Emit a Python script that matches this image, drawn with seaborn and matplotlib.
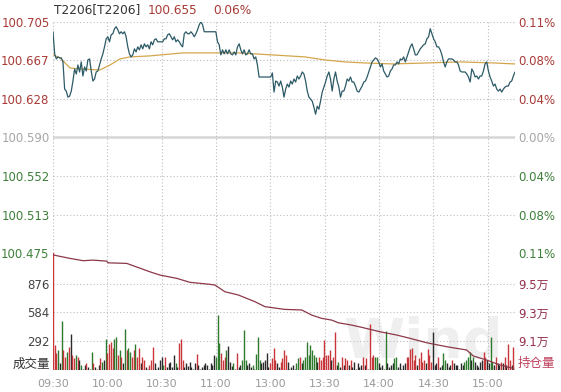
import numpy as np
import pandas as pd
import matplotlib
matplotlib.use("Agg")
import matplotlib.pyplot as plt
import seaborn as sns

# ---------------- data ----------------
title_code = "T2206[T2206]"
last_price = "100.655"
last_change = "0.06%"
pre_close = 100.590

price_ticks = [100.705, 100.667, 100.628, 100.590, 100.552, 100.513, 100.475]
price_labels = ["100.705", "100.667", "100.628", "100.590", "100.552", "100.513", "100.475"]
pct_labels = ["0.11%", "0.08%", "0.04%", "0.00%", "0.04%", "0.08%", "0.11%"]
time_ticks = [0, 30, 60, 90, 120, 150, 180, 210, 240]
time_labels = ["09:30", "10:00", "10:30", "11:00", "13:00", "13:30", "14:00", "14:30", "15:00"]
session_minutes = 255

price = [
    100.695, 100.673, 100.668, 100.670, 100.669, 100.669, 100.665, 100.638, 100.636, 100.630,
    100.631, 100.636, 100.646, 100.658, 100.653, 100.662, 100.655, 100.665, 100.651, 100.660,
    100.656, 100.667, 100.668, 100.656, 100.646, 100.648, 100.655, 100.656, 100.662, 100.668,
    100.673, 100.680, 100.688, 100.690, 100.685, 100.692, 100.693, 100.698, 100.700, 100.697,
    100.693, 100.695, 100.693, 100.695, 100.690, 100.680, 100.673, 100.670, 100.672, 100.678,
    100.675, 100.680, 100.677, 100.682, 100.678, 100.683, 100.680, 100.682, 100.678, 100.685,
    100.682, 100.687, 100.688, 100.685, 100.685, 100.685, 100.685, 100.688, 100.688, 100.692,
    100.693, 100.690, 100.687, 100.690, 100.685, 100.687, 100.685, 100.682, 100.680, 100.693,
    100.695, 100.693, 100.693, 100.695, 100.693, 100.690, 100.693, 100.697, 100.702, 100.705,
    100.702, 100.695, 100.695, 100.695, 100.695, 100.695, 100.695, 100.695, 100.695, 100.685,
    100.682, 100.672, 100.677, 100.673, 100.677, 100.673, 100.677, 100.673, 100.672, 100.675,
    100.672, 100.680, 100.683, 100.677, 100.673, 100.677, 100.672, 100.673, 100.677, 100.673,
    100.673, 100.668, 100.670, 100.662, 100.650, 100.650, 100.650, 100.650, 100.650, 100.650,
    100.650, 100.650, 100.654, 100.635, 100.646, 100.645, 100.641, 100.646,
    100.640, 100.630, 100.638, 100.643, 100.640, 100.646, 100.643, 100.648, 100.645, 100.651,
    100.648, 100.651, 100.655, 100.653, 100.646, 100.636, 100.630, 100.628, 100.626, 100.620,
    100.613, 100.621, 100.618, 100.626, 100.635, 100.640, 100.645, 100.651, 100.655, 100.648,
    100.636, 100.648, 100.655, 100.646, 100.640, 100.630, 100.636, 100.636, 100.641, 100.648,
    100.646, 100.650, 100.645, 100.645, 100.641, 100.636, 100.635, 100.638, 100.641, 100.645,
    100.646, 100.650, 100.655, 100.660, 100.665, 100.667, 100.669, 100.668, 100.665, 100.660,
    100.663, 100.656, 100.653, 100.650, 100.651, 100.656, 100.658, 100.662, 100.662, 100.665,
    100.663, 100.668, 100.667, 100.670, 100.665, 100.670, 100.675, 100.680, 100.683, 100.678,
    100.672, 100.672, 100.675, 100.678, 100.680, 100.682, 100.683, 100.688, 100.690, 100.698,
    100.693, 100.688, 100.685, 100.680, 100.680, 100.677, 100.672, 100.665, 100.660, 100.665,
    100.668, 100.668, 100.668, 100.667, 100.665, 100.665, 100.662, 100.656, 100.655, 100.655,
    100.655, 100.653, 100.650, 100.645, 100.658, 100.655, 100.650, 100.651, 100.648, 100.651,
    100.651, 100.656, 100.663, 100.665, 100.656, 100.650, 100.646, 100.641, 100.643, 100.638,
    100.636, 100.638, 100.635, 100.638, 100.640, 100.641, 100.641, 100.645, 100.646, 100.651,
    100.655,
]

avg_minutes = [0, 3.9, 9.4, 14.9, 25.9, 31.5, 37.0, 42.5, 53.5, 71.7, 86.6, 102.0,
               120.8, 139.0, 150.0, 161.0, 172.0, 187.5, 206.4, 224.6, 242.8, 255]
avg_price = [100.672, 100.669, 100.659, 100.658, 100.657, 100.662, 100.668, 100.670,
             100.671, 100.674, 100.674, 100.674, 100.672, 100.670, 100.667, 100.665,
             100.664, 100.663, 100.664, 100.665, 100.664, 100.663]

volume = [
    1500,
    252, 166, 200, 62, 493, 200, 131, 183, 235, 366,
    148, 114, 148, 131, 97, 45, 10, 45, 62, 28,
    10, 183, 62, 28, 10, 45, 114, 79, 97, 310,
    166, 259, 286, 217, 310, 331, 148, 200, 131, 62,
    414, 200, 217, 183, 131, 200, 259, 131, 217, 62,
    131, 97, 28, 10, 45, 97, 235, 62, 10, 28,
    97, 124, 45, 131, 28, 62, 79, 28, 148, 62,
    28, 269, 310, 97, 28, 62, 35, 79, 28, 10,
    62, 155, 45, 10, 21, 45, 62,
    45, 10, 62, 45, 148, 131, 562, 276, 166, 97,
    131, 200, 241, 79, 35, 62, 10, 166, 21, 45,
    97, 407, 97, 45, 62, 28, 45, 10, 159, 331,
    97, 62, 79, 97, 166, 28, 62, 114, 217, 97,
    62, 28, 79, 114, 200, 148, 79, 10, 28, 45,
    10, 62, 114, 131, 62, 97, 131, 286, 148, 252,
    200, 148, 131, 79, 131, 97, 131, 303, 148, 148,
    200, 97, 131, 380, 45, 79, 28, 131, 45, 114,
    97, 45, 97, 28, 79, 10, 62, 28, 45, 131,
    45, 114, 10, 469, 131, 148, 131, 131, 62, 28,
    45, 10, 390, 62, 28, 45, 62, 114, 131, 28,
    62, 10, 45, 62, 131, 131, 210, 224, 97, 148,
    45, 114, 183, 79, 97, 62, 207, 148, 79, 380,
    45, 62, 131, 28, 45, 166, 97, 62, 28, 45,
    97, 62, 45, 45, 10, 62, 45, 79, 97, 131,
    183, 97, 131, 79, 45, 28, 79, 97, 183, 131,
    97, 62, 331, 79, 45, 131, 62, 45, 79, 62,
    131, 45, 262, 97, 45, 235, 28,
]
volume_colors = (
    "r"
    "rrgkgrrgrk" "rrgrkgkkrk" "ggrkrkrgkg" "rrrrggrgrk" "grggrrgrrk"
    "rrkkrrrkkk" "kkgrkkkkkg" "krrrkkkkkk" "krkkkkk"
    "kkkkkgggrr" "rgkkkgkrkk" "gggkkkgkgg" "gkkkkkrrrr" "kkrrrrkkkk"
    "kggrkggggg" "gggkrrrrrr" "rkrrkgkrkr" "rkrkkkkkkr"
    "krkrrrggkk" "kkgkkkkggk" "kkkkrrrrrr" "krrrrkrrrk" "kkrkkggkkk"
    "rkkkkkkggg" "gkgkkkkkrr" "kkggkrkkrk" "rkrrkrk"
)

oi_minutes = [0.2, 9.4, 16.7, 22.1, 29.6, 30.4, 40.7, 49.8, 53.5, 59.1, 68.3, 75.6,
              86.6, 89.4, 94.9, 102.3, 111.5, 117.0, 128.0, 137.3, 142.8, 148.3,
              153.8, 157.5, 164.8, 170.4, 180.5, 189.7, 197.0, 206.2, 217.3, 228.3,
              232.0, 239.4, 246.7, 254.0]
oi_wan = [9.704, 9.680, 9.664, 9.668, 9.661, 9.649, 9.645, 9.603, 9.586, 9.563, 9.540,
          9.512, 9.498, 9.493, 9.446, 9.423, 9.376, 9.341, 9.322, 9.318, 9.282, 9.259,
          9.247, 9.228, 9.212, 9.196, 9.165, 9.142, 9.119, 9.088, 9.060, 9.037, 8.995,
          8.966, 8.932, 8.908]

vol_ticks = [292, 584, 876]
vol_labels = ["292", "584", "876"]
oi_ticks = [9.1, 9.3, 9.5]
oi_labels = ["9.1万", "9.3万", "9.5万"]

# ---------------- style ----------------
sns.set_style("white")
plt.rcParams["font.family"] = ["DejaVu Sans", "Noto Sans CJK SC"]

RED = "#a83a36"
GREEN = "#3d7f3a"
GRAY = "#a6a6a6"
GRID = "#bdbdbd"
bar_cmap = {"r": "#c8363a", "g": "#2e7a2e", "k": "#2a2a2a"}

W, H = 561, 392
fig = plt.figure(figsize=(W / 100, H / 100), dpi=100)
fig.patch.set_facecolor("white")

x0, x1 = 53, 515
yp_top, yp_bot = 21.7, 253
yv_bot = 369.5

ax_p = fig.add_axes([x0 / W, 1 - yp_bot / H, (x1 - x0) / W, (yp_bot - yp_top) / H])
ax_v = fig.add_axes([x0 / W, 1 - yv_bot / H, (x1 - x0) / W, (yv_bot - yp_bot) / H])

dotted = (0, (1, 2))

# price panel
price_df = pd.DataFrame({"t": np.linspace(0, session_minutes, len(price)), "p": price})
avg_df = pd.DataFrame({"t": avg_minutes, "p": avg_price})
for yv in price_ticks:
    if abs(yv - pre_close) < 1e-9:
        ax_p.axhline(yv, color="#d6d6d6", lw=1.8, zorder=1)
    else:
        ax_p.axhline(yv, color=GRID, lw=0.8, ls=dotted, zorder=1)
for xv in time_ticks + [session_minutes]:
    ax_p.axvline(xv, color=GRID, lw=0.8, ls=dotted, zorder=1)
sns.lineplot(data=avg_df, x="t", y="p", ax=ax_p, color="#d4a64c", lw=0.9,
             estimator=None, zorder=3)
sns.lineplot(data=price_df, x="t", y="p", ax=ax_p, color="#2c5a66", lw=0.9,
             estimator=None, zorder=4)
ax_p.set_xlim(0, session_minutes)
ax_p.set_ylim(price_ticks[-1], price_ticks[0])
ax_p.set_yticks(price_ticks)
ax_p.set_yticklabels(price_labels)
ax_p.set_xticks([])
ax_p.set_xlabel("")
ax_p.set_ylabel("")
ax_p.tick_params(axis="y", length=0, pad=2.5, labelsize=8.5)
for lab, yv in zip(ax_p.get_yticklabels(), price_ticks):
    lab.set_color(RED if yv > pre_close + 1e-9 else (GREEN if yv < pre_close - 1e-9 else GRAY))
ax_p2 = ax_p.twinx()
ax_p2.set_ylim(ax_p.get_ylim())
ax_p2.set_yticks(price_ticks)
ax_p2.set_yticklabels(pct_labels)
ax_p2.tick_params(axis="y", length=0, pad=2.5, labelsize=8.5)
for lab, yv in zip(ax_p2.get_yticklabels(), price_ticks):
    lab.set_color(RED if yv > pre_close + 1e-9 else (GREEN if yv < pre_close - 1e-9 else GRAY))
for a in (ax_p, ax_p2):
    for s in a.spines.values():
        s.set_visible(False)

# volume / open interest panel
vol_max = 1192
vol_t = np.linspace(0, session_minutes, len(volume))
for yv in vol_ticks:
    ax_v.axhline(yv, color=GRID, lw=0.8, ls=dotted, zorder=1)
for xv in time_ticks + [session_minutes]:
    ax_v.axvline(xv, color=GRID, lw=0.8, ls=dotted, zorder=1)
ax_v.text(0.80, 0.0, "Wind", transform=ax_v.transAxes, ha="center", va="bottom",
          fontsize=40, fontweight="bold", color="#efefef", zorder=0)
ax_v.vlines(vol_t, 0, volume, colors=[bar_cmap[c] for c in volume_colors], lw=1.0, zorder=3)
ax_v.set_xlim(0, session_minutes)
ax_v.set_ylim(0, vol_max)
ax_v.set_yticks(vol_ticks)
ax_v.set_yticklabels(vol_labels)
ax_v.tick_params(axis="y", length=0, pad=2.5, labelsize=8.5, labelcolor="#444444")
ax_v.set_xticks(time_ticks)
ax_v.set_xticklabels(time_labels)
ax_v.tick_params(axis="x", length=0, pad=7, labelsize=8, labelcolor="#9a9a9a")

ax_oi = ax_v.twinx()
oi_df = pd.DataFrame({"t": oi_minutes, "v": oi_wan})
sns.lineplot(data=oi_df, x="t", y="v", ax=ax_oi, color="#8c3848", lw=0.9,
             estimator=None, zorder=4)
ax_oi.set_xlim(0, session_minutes)
ax_oi.set_ylim(8.900, 9.718)
ax_oi.set_yticks(oi_ticks)
ax_oi.set_yticklabels(oi_labels)
ax_oi.set_ylabel("")
ax_oi.tick_params(axis="y", length=0, pad=2.5, labelsize=8.5, labelcolor="#94304c")
for a in (ax_v, ax_oi):
    for s in a.spines.values():
        s.set_visible(False)

fig.text(50 / W, 1 - 364 / H, "成交量", ha="right", va="center", fontsize=9, color="#333333")
fig.text(518 / W, 1 - 364 / H, "持仓量", ha="left", va="center", fontsize=9, color="#c0405e")

# title
fig.text(54 / W, 1 - 10 / H, title_code, ha="left", va="center", fontsize=8.7, color="#333333")
fig.text(148 / W, 1 - 10 / H, last_price, ha="left", va="center", fontsize=8.7, color=RED)
fig.text(213 / W, 1 - 10 / H, last_change, ha="left", va="center", fontsize=8.7, color=RED)

fig.savefig("out.png", dpi=100, facecolor="white")
